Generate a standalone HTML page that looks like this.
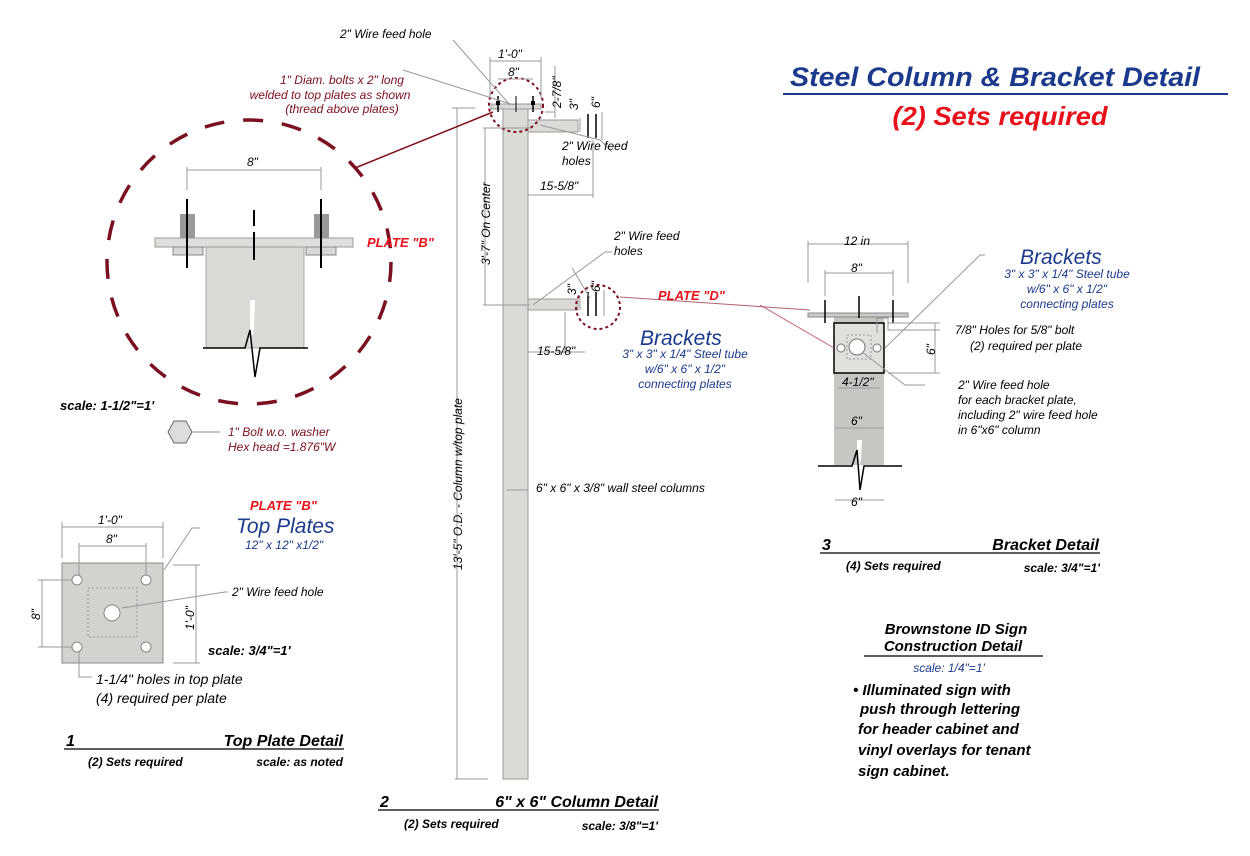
<!DOCTYPE html>
<html><head><meta charset="utf-8"><style>
html,body{margin:0;padding:0;background:#fff;}
svg{display:block;}
text{font-family:"Liberation Sans",sans-serif;font-style:italic;}
.b{font-weight:bold;}
</style></head><body>
<svg width="1250" height="856" viewBox="0 0 1250 856" xmlns="http://www.w3.org/2000/svg">
<!-- Title -->
<text x="995" y="86" font-size="27" class="b" fill="#1b3a8c" text-anchor="middle" textLength="410" lengthAdjust="spacingAndGlyphs">Steel Column &amp; Bracket Detail</text>
<line x1="783" y1="94" x2="1228" y2="94" stroke="#1b3a8c" stroke-width="2"/>
<text x="1000" y="125" font-size="26" class="b" fill="#e8101a" text-anchor="middle" textLength="215" lengthAdjust="spacingAndGlyphs">(2) Sets required</text>

<!-- Main column -->
<g stroke="#999" stroke-width="1" fill="#dcdad6">
<rect x="503" y="108" width="25" height="671"/>
<rect x="491" y="104" width="50" height="5"/>
<rect x="528" y="120" width="50" height="12"/>
<rect x="528" y="299" width="50" height="11"/>
</g>
<g stroke="#000" stroke-width="1.5">
<line x1="498" y1="96" x2="498" y2="112"/><line x1="533" y1="96" x2="533" y2="112"/>
<line x1="516" y1="96" x2="516" y2="112" stroke-width="1"/>
<line x1="588" y1="114" x2="588" y2="138"/><line x1="596" y1="114" x2="596" y2="138"/>
<line x1="588" y1="292" x2="588" y2="316"/><line x1="596" y1="292" x2="596" y2="316"/>
</g>
<rect x="496" y="101" width="4" height="4" fill="#000"/><rect x="531" y="101" width="4" height="4" fill="#000"/>
<g stroke="#7a1020" stroke-width="2" fill="none" stroke-dasharray="3,3">
<circle cx="516" cy="105" r="27"/>
<circle cx="598" cy="307" r="22"/>
</g>
<!-- dims column -->
<g stroke="#999" stroke-width="1" fill="none">
<line x1="457" y1="108" x2="457" y2="779"/><line x1="452" y1="108" x2="475" y2="108"/><line x1="455" y1="779" x2="488" y2="779"/>
<line x1="485" y1="128" x2="485" y2="305"/><line x1="483" y1="128" x2="530" y2="128"/><line x1="483" y1="305" x2="530" y2="305"/>
<line x1="490" y1="61" x2="541" y2="61"/><line x1="490" y1="57" x2="490" y2="98"/><line x1="541" y1="57" x2="541" y2="98"/>
<line x1="498" y1="79" x2="533" y2="79"/>
<line x1="528" y1="195" x2="593" y2="195"/><line x1="593" y1="140" x2="593" y2="198"/>
<line x1="528" y1="352" x2="585" y2="352"/><line x1="565" y1="312" x2="565" y2="352"/>
<line x1="545" y1="112" x2="555" y2="112"/><line x1="555" y1="66" x2="555" y2="118"/>
<line x1="580" y1="118" x2="580" y2="132"/>
<line x1="602" y1="112" x2="602" y2="140"/>
<line x1="580" y1="297" x2="580" y2="310"/>
<line x1="604" y1="290" x2="604" y2="316"/>
<line x1="507" y1="490" x2="528" y2="490"/>
<line x1="403" y1="70" x2="514" y2="105"/>
<line x1="453" y1="40" x2="510" y2="105"/>
<line x1="540" y1="125" x2="600" y2="140" /><line x1="600" y1="140" x2="612" y2="152"/>
<line x1="533" y1="305" x2="605" y2="252"/><line x1="605" y1="252" x2="612" y2="252"/><line x1="572" y1="268" x2="590" y2="298"/>
</g>
<line x1="620" y1="297" x2="810" y2="310" stroke="#b06070" stroke-width="1"/>
<g fill="#000" font-size="12">
<text x="340" y="38">2" Wire feed hole</text>
<text x="498" y="58">1'-0"</text>
<text x="508" y="76">8"</text>
<text x="562" y="150">2" Wire feed</text><text x="562" y="165">holes</text>
<text x="540" y="190">15-5/8"</text>
<text x="614" y="240">2" Wire feed</text><text x="614" y="255">holes</text>
<text x="537" y="355">15-5/8"</text>
<text x="536" y="492">6" x 6" x 3/8" wall steel columns</text>
<text transform="translate(490,265) rotate(-90)">3'-7" On Center</text>
<text transform="translate(462,570) rotate(-90)">13'-5" O.D. - Column w/top plate</text>
<text transform="translate(561,108) rotate(-90)">2-7/8"</text>
<text transform="translate(578,110) rotate(-90)">3"</text>
<text transform="translate(600,108) rotate(-90)">6"</text>
<text transform="translate(576,295) rotate(-90)">3"</text>
<text transform="translate(600,292) rotate(-90)">6"</text>
</g>
<g fill="#7a1020" font-size="12" text-anchor="middle">
<text x="342" y="84">1" Diam. bolts x 2" long</text>
<text x="330" y="99">welded to top plates as shown</text>
<text x="342" y="113">(thread above plates)</text>
</g>
<text x="658" y="300" font-size="13" class="b" fill="#e8101a">PLATE "D"</text>
<text x="640" y="345" font-size="21" fill="#1b3a8c">Brackets</text>
<g font-size="12" fill="#1b3a8c" text-anchor="middle">
<text x="685" y="358">3" x 3" x 1/4" Steel tube</text>
<text x="685" y="373">w/6" x 6" x 1/2"</text>
<text x="685" y="388">connecting plates</text>
</g>

<!-- Left circle detail -->
<circle cx="249" cy="262" r="142" fill="none" stroke="#7a1020" stroke-width="3.5" stroke-dasharray="20,19"/>
<line x1="355" y1="168" x2="493" y2="112" stroke="#7a1020" stroke-width="1.5"/>
<rect x="206" y="246" width="98" height="102" fill="#dcdad6" stroke="#aaa"/>
<rect x="155" y="238" width="198" height="9" fill="#e0deda" stroke="#999"/>
<rect x="180" y="214" width="15" height="24" fill="#999"/><rect x="314" y="214" width="15" height="24" fill="#999"/>
<rect x="173" y="247" width="30" height="8" fill="#d8d8d8" stroke="#888"/><rect x="306" y="247" width="30" height="8" fill="#d8d8d8" stroke="#888"/>
<g stroke="#000" stroke-width="2">
<line x1="187" y1="199" x2="187" y2="268"/><line x1="321" y1="199" x2="321" y2="268"/>
<line x1="254" y1="210" x2="254" y2="226"/><line x1="254" y1="232" x2="254" y2="260"/>
</g>
<polygon points="250,300 255,300 254,330 250,342" fill="#fff"/>
<polyline points="203,348 245,348 250,330 255,377 260,348 308,348" fill="none" stroke="#000" stroke-width="1.5"/>
<g stroke="#999"><line x1="187" y1="170" x2="321" y2="170"/><line x1="187" y1="167" x2="187" y2="190"/><line x1="321" y1="167" x2="321" y2="190"/></g>
<text x="247" y="166" font-size="12" fill="#000">8"</text>
<text x="367" y="247" font-size="13" class="b" fill="#e8101a">PLATE "B"</text>
<text x="60" y="410" font-size="13" class="b" fill="#000">scale: 1-1/2"=1'</text>
<polygon points="168,432 174,421 186,421 192,432 186,443 174,443" fill="#ddd" stroke="#666"/>
<line x1="192" y1="432" x2="220" y2="432" stroke="#888"/>
<text x="228" y="436" font-size="12" fill="#7a1020">1" Bolt w.o. washer</text>
<text x="228" y="451" font-size="12" fill="#7a1020">Hex head =1.876"W</text>

<!-- Top plate detail -->
<rect x="62" y="563" width="101" height="100" fill="#d4d2ce" stroke="#888"/>
<rect x="88" y="588" width="49" height="49" fill="none" stroke="#999" stroke-dasharray="2,2"/>
<g fill="#fff" stroke="#888"><circle cx="77" cy="580" r="5"/><circle cx="146" cy="580" r="5"/><circle cx="77" cy="647" r="5"/><circle cx="146" cy="647" r="5"/><circle cx="112" cy="613" r="8"/></g>
<g stroke="#999" fill="none">
<line x1="62" y1="527" x2="163" y2="527"/><line x1="62" y1="522" x2="62" y2="558"/><line x1="163" y1="522" x2="163" y2="558"/>
<line x1="79" y1="546" x2="146" y2="546"/><line x1="79" y1="543" x2="79" y2="575"/><line x1="146" y1="543" x2="146" y2="575"/>
<line x1="42" y1="580" x2="42" y2="647"/><line x1="38" y1="580" x2="72" y2="580"/><line x1="38" y1="647" x2="72" y2="647"/>
<line x1="196" y1="565" x2="196" y2="663"/><line x1="173" y1="565" x2="200" y2="565"/><line x1="173" y1="663" x2="200" y2="663"/>
<polyline points="164,570 192,528 200,528"/>
<polyline points="122,608 225,592 228,592"/>
<polyline points="79,652 79,677 92,677"/>
</g>
<g fill="#000" font-size="12">
<text x="98" y="524">1'-0"</text><text x="106" y="543">8"</text>
<text transform="translate(40,620) rotate(-90)">8"</text>
<text transform="translate(194,630) rotate(-90)">1'-0"</text>
<text x="232" y="596">2" Wire feed hole</text>
<text x="96" y="684" font-size="14">1-1/4" holes in top plate</text>
<text x="96" y="703" font-size="14">(4) required per plate</text>
</g>
<text x="208" y="655" font-size="13" class="b" fill="#000">scale: 3/4"=1'</text>
<text x="250" y="510" font-size="13" class="b" fill="#e8101a">PLATE "B"</text>
<text x="236" y="533" font-size="21" fill="#1b3a8c">Top Plates</text>
<text x="245" y="549" font-size="12" fill="#1b3a8c">12" x 12" x1/2"</text>
<text x="66" y="746" font-size="16" class="b" fill="#000">1</text>
<text x="343" y="746" font-size="16" class="b" fill="#000" text-anchor="end">Top Plate Detail</text>
<line x1="64" y1="749" x2="344" y2="749" stroke="#000" stroke-width="1.3"/>
<text x="88" y="766" font-size="12" class="b" fill="#000">(2) Sets required</text>
<text x="343" y="766" font-size="12" class="b" fill="#000" text-anchor="end">scale: as noted</text>

<!-- Column detail title -->
<text x="380" y="807" font-size="16" class="b" fill="#000">2</text>
<text x="658" y="807" font-size="16" class="b" fill="#000" text-anchor="end">6" x 6" Column Detail</text>
<line x1="378" y1="810" x2="659" y2="810" stroke="#000" stroke-width="1.3"/>
<text x="404" y="828" font-size="12" class="b" fill="#000">(2) Sets required</text>
<text x="658" y="830" font-size="12" class="b" fill="#000" text-anchor="end">scale: 3/8"=1'</text>

<!-- Bracket detail -->
<rect x="834" y="316" width="50" height="149" fill="#c8c6c2"/>
<rect x="808" y="313" width="100" height="4" fill="#ccc" stroke="#888"/>
<rect x="834" y="323" width="50" height="50" fill="#e2e0dc" stroke="#000" stroke-width="1.5"/>
<rect x="847" y="335" width="24" height="24" fill="none" stroke="#999" stroke-dasharray="2,2"/>
<g fill="#fff" stroke="#777"><circle cx="841" cy="348" r="4"/><circle cx="877" cy="348" r="4"/><circle cx="857" cy="347" r="8"/></g>
<g stroke="#000" stroke-width="1.5"><line x1="825" y1="300" x2="825" y2="323"/><line x1="893" y1="300" x2="893" y2="323"/><line x1="859" y1="296" x2="859" y2="318"/></g>
<polygon points="857,440 862,440 861,460 857,470" fill="#fff"/>
<polyline points="818,466 852,466 857,450 860,490 864,466 902,466" fill="none" stroke="#000" stroke-width="1.5"/>
<g stroke="#999" fill="none">
<line x1="808" y1="244" x2="908" y2="244"/><line x1="808" y1="241" x2="808" y2="283"/><line x1="908" y1="241" x2="908" y2="283"/>
<line x1="825" y1="273" x2="893" y2="273"/><line x1="825" y1="270" x2="825" y2="296"/><line x1="893" y1="270" x2="893" y2="296"/>
<line x1="935" y1="323" x2="935" y2="373"/><line x1="888" y1="323" x2="940" y2="323"/><line x1="888" y1="373" x2="940" y2="373"/>
<line x1="838" y1="388" x2="880" y2="388"/>
<line x1="835" y1="428" x2="884" y2="428"/>
<line x1="835" y1="500" x2="884" y2="500"/>
<polyline points="885,348 980,255 985,255"/>
<polyline points="877,333 877,318 888,318 888,330 940,330"/>
<polyline points="862,352 905,385 925,385"/>
</g>
<line x1="760" y1="305" x2="834" y2="348" stroke="#c06070"/>
<g fill="#000" font-size="12">
<text x="844" y="245">12 in</text><text x="851" y="272">8"</text>
<text transform="translate(935,355) rotate(-90)">6"</text>
<text x="842" y="386">4-1/2"</text>
<text x="851" y="425">6"</text>
<text x="851" y="506">6"</text>
<text x="955" y="334">7/8" Holes for 5/8" bolt</text>
<text x="970" y="350">(2) required per plate</text>
<text x="958" y="389">2" Wire feed hole</text>
<text x="958" y="404">for each bracket plate,</text>
<text x="958" y="419">including 2" wire feed hole</text>
<text x="958" y="434">in 6"x6" column</text>
</g>
<text x="1020" y="264" font-size="21" fill="#1b3a8c">Brackets</text>
<g font-size="12" fill="#1b3a8c" text-anchor="middle">
<text x="1067" y="278">3" x 3" x 1/4" Steel tube</text>
<text x="1067" y="293">w/6" x 6" x 1/2"</text>
<text x="1067" y="308">connecting plates</text>
</g>
<text x="822" y="550" font-size="16" class="b" fill="#000">3</text>
<text x="1099" y="550" font-size="16" class="b" fill="#000" text-anchor="end">Bracket Detail</text>
<line x1="820" y1="553" x2="1100" y2="553" stroke="#000" stroke-width="1.3"/>
<text x="846" y="570" font-size="12" class="b" fill="#000">(4) Sets required</text>
<text x="1100" y="572" font-size="12" class="b" fill="#000" text-anchor="end">scale: 3/4"=1'</text>

<!-- Brownstone -->
<text x="956" y="634" font-size="15" class="b" fill="#000" text-anchor="middle">Brownstone ID Sign</text>
<text x="953" y="651" font-size="15" class="b" fill="#000" text-anchor="middle">Construction Detail</text>
<line x1="864" y1="656" x2="1043" y2="656" stroke="#000" stroke-width="1.3"/>
<text x="949" y="672" font-size="12" fill="#1b3a8c" text-anchor="middle">scale: 1/4"=1'</text>
<g font-size="15" class="b" fill="#000">
<text x="853" y="695">• Illuminated sign with</text>
<text x="860" y="714">push through lettering</text>
<text x="858" y="734">for header cabinet and</text>
<text x="858" y="755">vinyl overlays for tenant</text>
<text x="858" y="776">sign cabinet.</text>
</g>
</svg>
</body></html>
